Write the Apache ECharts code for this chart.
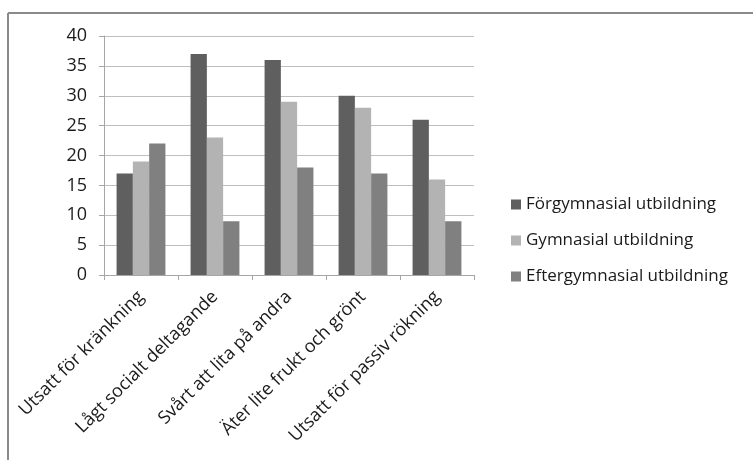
<!DOCTYPE html>
<html>
<head>
<meta charset="utf-8">
<script src="https://cdn.jsdelivr.net/npm/echarts@6/dist/echarts.min.js"></script>
<style>
  html, body { margin: 0; padding: 0; background: #fff; }
  #chart { width: 753px; height: 460px; }
</style>
</head>
<body>
<div id="chart"></div>
<script>
// Categories (x axis)
const categories = [
  'Utsatt för kränkning',
  'Lågt socialt deltagande',
  'Svårt att lita på andra',
  'Äter lite frukt och grönt',
  'Utsatt för passiv rökning'
];

// Series names
const seriesNames = [
  'Förgymnasial utbildning',
  'Gymnasial utbildning',
  'Eftergymnasial utbildning'
];

// Series values
const forgymnasial = [17, 37, 36, 30, 26];
const gymnasial = [19, 23, 29, 28, 16];
const eftergymnasial = [22, 9, 18, 17, 9];

const seriesColors = ['#5f5f5f', '#b3b3b3', '#808080'];
const fontFamily = '"Open Sans", Lato, sans-serif';
const textColor = '#1a1a1a';

const chart = echarts.init(document.getElementById('chart'));

const values = [forgymnasial, gymnasial, eftergymnasial];

chart.setOption({
  animation: false,
  backgroundColor: '#fff',
  graphic: [
    // frame around the chart area (top and left edges)
    { type: 'line', shape: { x1: 8, y1: 13, x2: 753, y2: 13 },
      style: { stroke: '#8a8a8a', lineWidth: 2 } },
    { type: 'line', shape: { x1: 8, y1: 13, x2: 8, y2: 460 },
      style: { stroke: '#8a8a8a', lineWidth: 2 } }
  ],
  grid: { left: 104, right: 279, top: 36, bottom: 185, containLabel: false },
  legend: {
    orient: 'vertical',
    left: 506,
    top: 191,
    itemWidth: 10,
    itemHeight: 10,
    itemGap: 19,
    icon: 'rect',
    textStyle: { fontFamily, fontSize: 17, color: textColor },
    data: seriesNames
  },
  xAxis: {
    type: 'category',
    data: categories,
    axisLine: { lineStyle: { color: '#a6a6a6', width: 1 } },
    axisTick: { show: true, length: 5, lineStyle: { color: '#a6a6a6' } },
    axisLabel: {
      rotate: 45,
      interval: 0,
      margin: 19,
      fontFamily,
      fontSize: 18,
      color: textColor
    }
  },
  yAxis: {
    type: 'value',
    min: 0,
    max: 40,
    interval: 5,
    axisLine: { show: true, lineStyle: { color: '#a6a6a6' } },
    axisTick: { show: true, length: 5, lineStyle: { color: '#a6a6a6' } },
    splitLine: { lineStyle: { color: '#bfbfbf' } },
    axisLabel: { fontFamily, fontSize: 18, color: textColor, margin: 17 }
  },
  series: seriesNames.map((name, i) => ({
    name,
    type: 'bar',
    data: values[i],
    barGap: '0%',
    barCategoryGap: '34%',
    itemStyle: { color: seriesColors[i] }
  }))
});
</script>
</body>
</html>
